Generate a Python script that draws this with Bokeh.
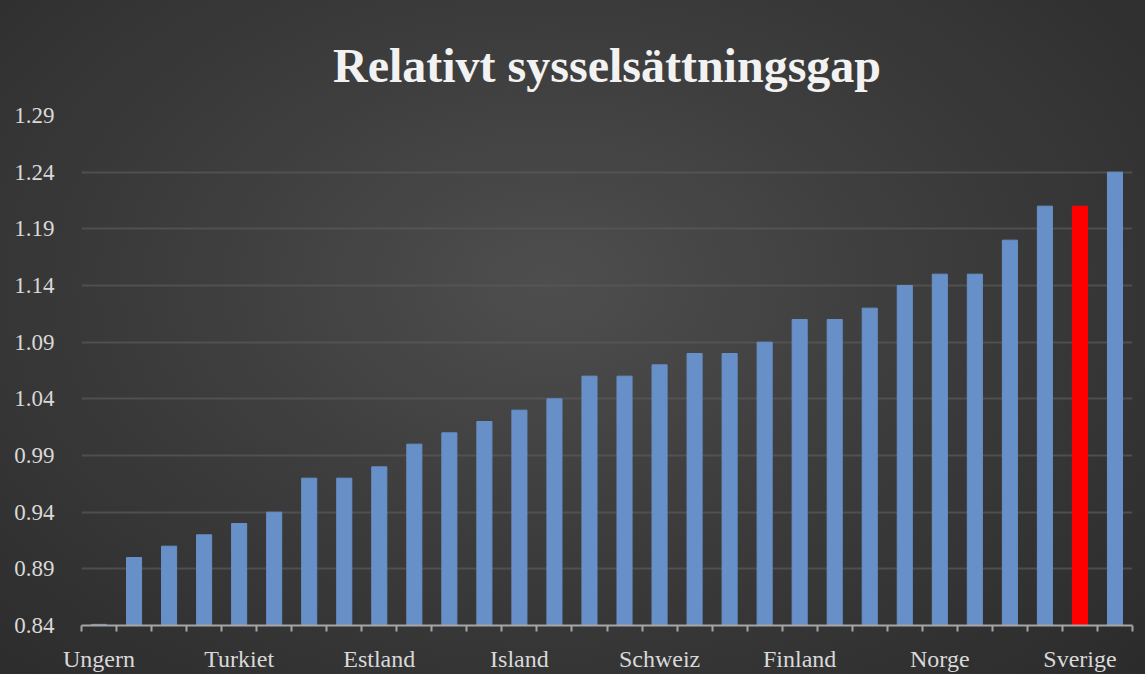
from bokeh.plotting import figure
from bokeh.models import Range1d, FixedTicker, PrintfTickFormatter, ColumnDataSource
from bokeh.embed import file_html
from bokeh.resources import INLINE

title_text = "Relativt sysselsättningsgap"

# Category labels (only every 4th country is labelled in the original)
countries = ["Ungern", "", "", "", "Turkiet", "", "", "", "Estland", "", "", "",
             "Island", "", "", "", "Schweiz", "", "", "", "Finland", "", "", "",
             "Norge", "", "", "", "Sverige", ""]
values = [0.841, 0.90, 0.91, 0.92, 0.93, 0.94, 0.97, 0.97, 0.98, 1.00,
          1.01, 1.02, 1.03, 1.04, 1.06, 1.06, 1.07, 1.08, 1.08, 1.09,
          1.11, 1.11, 1.12, 1.14, 1.15, 1.15, 1.18, 1.21, 1.21, 1.24]
highlight = "Sverige"
y_ticks = [0.84, 0.89, 0.94, 0.99, 1.04, 1.09, 1.14, 1.19, 1.24, 1.29]

BLUE = "#6890c8"
RED = "#ff0000"
FONT = "Liberation Serif"

n = len(values)
xs = list(range(n))
colors = [RED if c == highlight else BLUE for c in countries]
src = ColumnDataSource(dict(x=xs, top=values, color=colors))

W, H = 1145, 674
LEFT, RIGHT, TOP, BOTTOM = 81, 13, 115, 45
p = figure(width=W, height=H, output_backend="svg", toolbar_location=None,
           x_range=Range1d(-0.5, n - 0.5), y_range=Range1d(y_ticks[0], y_ticks[-1]),
           min_border_left=LEFT, min_border_right=RIGHT, min_border_top=TOP,
           min_border_bottom=BOTTOM)

p.styles = {"background": "radial-gradient(ellipse 75% 85% at 48% 42%, #4e4e4e 0%, #3c3c3c 45%, #2a2a2a 100%)"}
p.background_fill_color = None
p.border_fill_color = None
p.outline_line_color = None

p.vbar(x="x", top="top", bottom=y_ticks[0], width=0.43, color="color", source=src)

p.title.text = title_text
p.title.align = "center"
p.title.vertical_align = "top"
p.title.text_font = FONT
p.title.text_font_style = "bold"
p.title.text_font_size = "48px"
p.title.text_color = "#f2f2f2"
p.title.standoff = 44

# x axis
xa = p.xaxis[0]
xa.ticker = FixedTicker(ticks=[i for i, c in enumerate(countries) if c],
                        minor_ticks=[i - 0.5 for i in range(n + 1)])
xa.major_label_overrides = {i: c for i, c in enumerate(countries) if c}
xa.major_tick_out = 0
xa.major_tick_in = 0
xa.minor_tick_out = 6
xa.minor_tick_in = 0
xa.minor_tick_line_color = "#a6a6a6"
xa.minor_tick_line_width = 2
xa.axis_line_color = "#a6a6a6"
xa.axis_line_width = 2
xa.major_label_text_font = FONT
xa.major_label_text_font_size = "24px"
xa.major_label_text_color = "#d9d9d9"
xa.major_label_standoff = 14

# y axis
ya = p.yaxis[0]
ya.ticker = FixedTicker(ticks=y_ticks)
ya.formatter = PrintfTickFormatter(format="%.2f")
ya.axis_line_color = None
ya.major_tick_line_color = None
ya.minor_tick_line_color = None
ya.major_label_text_font = FONT
ya.major_label_text_font_size = "23px"
ya.major_label_text_color = "#d9d9d9"
ya.major_label_standoff = 21

p.xgrid.grid_line_color = None
p.ygrid.ticker = FixedTicker(ticks=y_ticks)
p.ygrid.grid_line_color = "#5a5a5a"
p.ygrid.grid_line_alpha = 0.7
p.ygrid.grid_line_width = 2

open("out.html", "w").write(file_html(p, INLINE))
